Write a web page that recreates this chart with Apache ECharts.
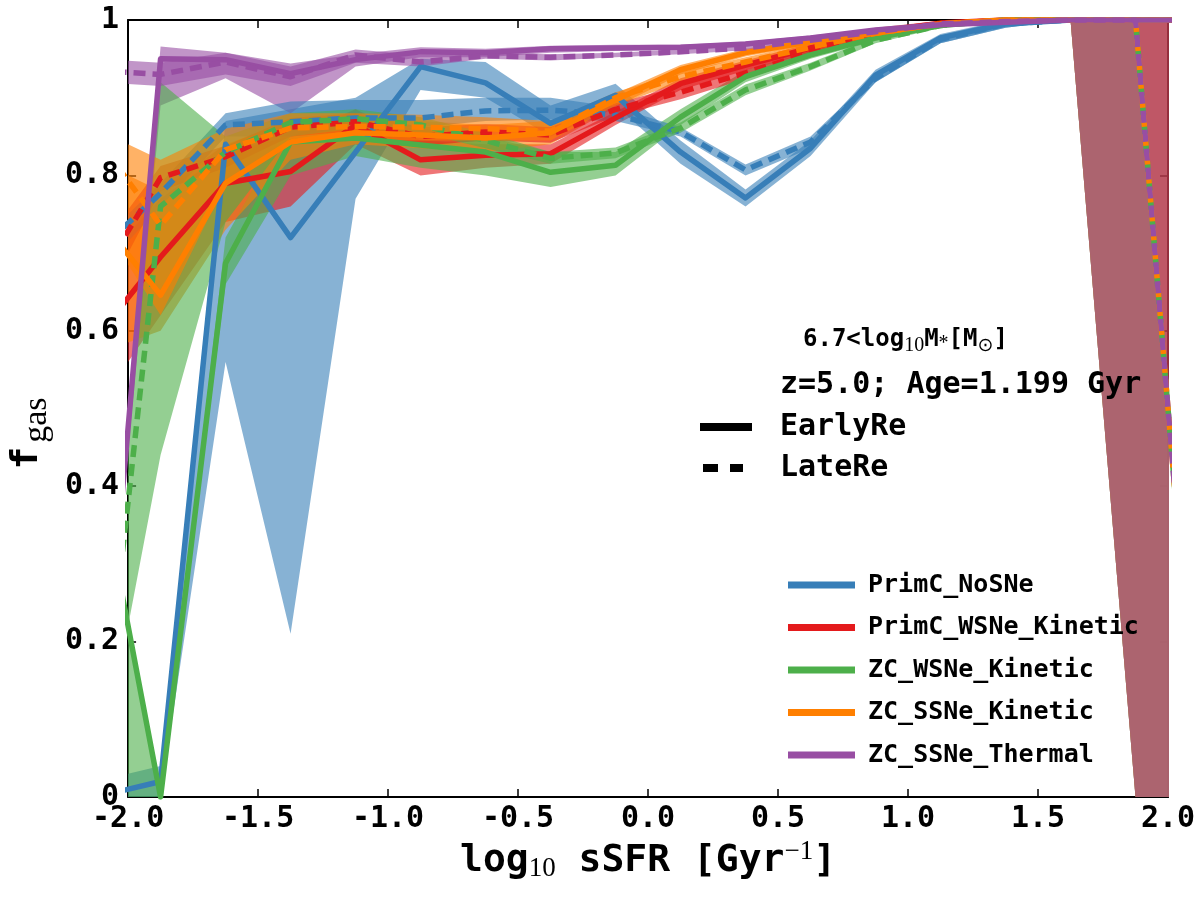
<!DOCTYPE html>
<html><head><meta charset="utf-8">
<script src="https://cdn.jsdelivr.net/npm/echarts/dist/echarts.min.js"></script>
<style>html,body{margin:0;padding:0;background:#fff}#c{width:1200px;height:900px}</style>
</head><body><div id="c"></div>
<script>
// bin centres of log10 sSFR
const xBins = [-2.125,-1.875,-1.625,-1.375,-1.125,-0.875,-0.625,-0.375,-0.125,0.125,0.375,0.625,0.875,1.125,1.375,1.625,1.875,2.125];
const models = ['PrimC_NoSNe','PrimC_WSNe_Kinetic','ZC_WSNe_Kinetic','ZC_SSNe_Kinetic','ZC_SSNe_Thermal'];
const colors = ['#377eb8','#e41a1c','#4daf4a','#ff7f00','#984ea3'];

// PrimC_NoSNe
const noSNeEarly   = [0.0,0.02,0.84,0.72,0.83,0.94,0.919,0.867,0.903,0.83,0.771,0.835,0.929,0.977,0.995,1,1,1];
const noSNeEarlyLo = [0.0,0.0,0.56,0.21,0.77,0.91,0.9,0.85,0.89,0.815,0.76,0.825,0.92,0.97,0.99,1,0,0];
const noSNeEarlyHi = [0.02,0.04,0.87,0.885,0.9,0.95,0.946,0.89,0.918,0.845,0.782,0.845,0.936,0.982,1,1,1,1];
const noSNeLate    = [0.70,0.777,0.865,0.869,0.874,0.874,0.883,0.884,0.878,0.856,0.807,0.843,0.925,0.975,0.995,1,1,1];
const noSNeLateLo  = [0.67,0.76,0.85,0.85,0.862,0.862,0.87,0.872,0.87,0.85,0.8,0.835,0.92,0.97,0.99,1,1,1];
const noSNeLateHi  = [0.71,0.79,0.88,0.895,0.897,0.897,0.9,0.9,0.888,0.862,0.814,0.85,0.93,0.98,1,1,1,1];
// PrimC_WSNe_Kinetic
const primKinEarly   = [0.59,0.695,0.79,0.805,0.865,0.82,0.826,0.828,0.874,0.918,0.942,0.964,0.985,0.996,1,1,1,1];
const primKinEarlyLo = [0.5,0.62,0.74,0.76,0.84,0.8,0.81,0.815,0.865,0.91,0.935,0.958,0.98,0.993,1,1,0,0];
const primKinEarlyHi = [0.68,0.77,0.83,0.85,0.885,0.845,0.84,0.84,0.882,0.925,0.948,0.97,0.99,0.999,1,1,1,1];
const primKinLate    = [0.66,0.797,0.824,0.862,0.869,0.85,0.856,0.852,0.885,0.907,0.932,0.958,0.979,0.995,1,1,1,1];
const primKinLateLo  = [0.62,0.78,0.81,0.85,0.857,0.838,0.845,0.842,0.876,0.898,0.924,0.952,0.975,0.992,1,1,1,1];
const primKinLateHi  = [0.7,0.812,0.838,0.874,0.88,0.862,0.866,0.862,0.893,0.915,0.94,0.964,0.983,0.998,1,1,1,1];
// ZC_WSNe_Kinetic
const zcWKinEarly   = [0.44,0.0,0.687,0.843,0.848,0.839,0.83,0.804,0.813,0.875,0.927,0.955,0.977,0.993,1,1,1,1];
const zcWKinEarlyLo = [0.0,0.0,0.66,0.8,0.825,0.81,0.8,0.785,0.8,0.865,0.92,0.95,0.973,0.99,1,1,1,1];
const zcWKinEarlyHi = [0.44,0.0,0.72,0.87,0.87,0.86,0.85,0.83,0.83,0.885,0.935,0.96,0.98,0.996,1,1,1,1];
const zcWKinLate    = [0.0,0.76,0.83,0.868,0.873,0.865,0.845,0.822,0.829,0.861,0.91,0.94,0.974,0.993,1,1,1,0];
const zcWKinLateLo  = [0.0,0.44,0.74,0.85,0.86,0.855,0.835,0.815,0.822,0.855,0.903,0.935,0.97,0.99,1,1,0,0];
const zcWKinLateHi  = [0.0,0.92,0.85,0.88,0.885,0.875,0.855,0.83,0.836,0.868,0.917,0.945,0.978,0.996,1,1,1,0];
// ZC_SSNe_Kinetic
const zcSKinEarly   = [0.75,0.646,0.79,0.843,0.855,0.852,0.848,0.855,0.897,0.936,0.958,0.972,0.983,0.995,1,1,1,1];
const zcSKinEarlyLo = [0.57,0.6,0.73,0.82,0.84,0.835,0.83,0.84,0.888,0.93,0.953,0.968,0.98,0.993,1,1,1,1];
const zcSKinEarlyHi = [0.82,0.78,0.84,0.87,0.875,0.87,0.865,0.87,0.905,0.942,0.963,0.976,0.986,0.997,1,1,1,1];
const zcSKinLate    = [0.85,0.736,0.833,0.861,0.863,0.862,0.86,0.857,0.9,0.927,0.946,0.965,0.983,0.995,1,1,1,0];
const zcSKinLateLo  = [0.75,0.62,0.79,0.84,0.845,0.845,0.845,0.845,0.89,0.92,0.94,0.96,0.98,0.993,1,1,0,0];
const zcSKinLateHi  = [0.86,0.82,0.86,0.88,0.88,0.878,0.875,0.87,0.907,0.933,0.952,0.97,0.986,0.997,1,1,1,0];
// ZC_SSNe_Thermal
const zcSThEarly   = [0.0,0.95,0.949,0.931,0.949,0.959,0.958,0.963,0.964,0.965,0.969,0.977,0.987,0.994,0.997,1,1,1];
const zcSThEarlyLo = [0.0,0.89,0.925,0.88,0.94,0.952,0.952,0.958,0.96,0.962,0.966,0.974,0.985,0.993,0.997,1,1,1];
const zcSThEarlyHi = [0.0,0.966,0.958,0.944,0.956,0.965,0.963,0.967,0.968,0.968,0.972,0.98,0.989,0.996,0.998,1,1,1];
const zcSThLate    = [0.935,0.93,0.946,0.927,0.955,0.946,0.954,0.952,0.955,0.959,0.964,0.974,0.985,0.995,0.998,1,1,0];
const zcSThLateLo  = [0.92,0.915,0.93,0.915,0.945,0.94,0.95,0.948,0.952,0.956,0.961,0.971,0.983,0.993,0.997,1,0,0];
const zcSThLateHi  = [0.95,0.945,0.958,0.94,0.962,0.955,0.958,0.956,0.958,0.962,0.967,0.977,0.987,0.997,0.999,1,1,0];

const xTickLabels = ['-2.0','-1.5','-1.0','-0.5','0.0','0.5','1.0','1.5','2.0'];
const yTickLabels = ['0','0.2','0.4','0.6','0.8','1'];

const runs = [
  {m:0, early:noSNeEarly, eLo:noSNeEarlyLo, eHi:noSNeEarlyHi, late:noSNeLate, lLo:noSNeLateLo, lHi:noSNeLateHi},
  {m:1, early:primKinEarly, eLo:primKinEarlyLo, eHi:primKinEarlyHi, late:primKinLate, lLo:primKinLateLo, lHi:primKinLateHi},
  {m:2, early:zcWKinEarly, eLo:zcWKinEarlyLo, eHi:zcWKinEarlyHi, late:zcWKinLate, lLo:zcWKinLateLo, lHi:zcWKinLateHi},
  {m:3, early:zcSKinEarly, eLo:zcSKinEarlyLo, eHi:zcSKinEarlyHi, late:zcSKinLate, lLo:zcSKinLateLo, lHi:zcSKinLateHi},
  {m:4, early:zcSThEarly, eLo:zcSThEarlyLo, eHi:zcSThEarlyHi, late:zcSThLate, lLo:zcSThLateLo, lHi:zcSThLateHi}
];

function band(name, color, lo, hi) {
  const data = xBins.map((x,i)=>[x, lo[i], hi[i]]);
  return {
    type:'custom', name:name, data:data, clip:true, z:1, silent:true,
    encode:{x:0, y:[1,2]},
    renderItem:function(params, api){
      if (params.dataIndex !== 0) return null;
      const pts = [];
      for (let i=0;i<data.length;i++) pts.push(api.coord([data[i][0], data[i][2]]));
      for (let i=data.length-1;i>=0;i--) pts.push(api.coord([data[i][0], data[i][1]]));
      return {type:'polygon', shape:{points:pts}, style:{fill:color, opacity:0.6}};
    }
  };
}
function line(name, color, ys, dashed) {
  return {
    type:'line', name:name, data:xBins.map((x,i)=>[x, ys[i]]), showSymbol:false, symbol:'none',
    clip:true, z:3, silent:true, color:color, itemStyle:{color:color},
    lineStyle:{color:color, width:5.5, type: dashed ? [12,7] : 'solid', join:'round', cap:'butt'}
  };
}

const series = [];
runs.forEach(r=>{ series.push(band(models[r.m]+' early band', colors[r.m], r.eLo, r.eHi)); });
runs.forEach(r=>{ series.push(band(models[r.m]+' late band', colors[r.m], r.lLo, r.lHi)); });
runs.forEach(r=>{
  series.push(line(models[r.m], colors[r.m], r.early, false));
  series.push(line(models[r.m], colors[r.m], r.late, true));
});

const mono = 'DejaVu Sans Mono';
const serif = 'Liberation Serif';
const axisCommon = {
  axisLine:{show:true, onZero:false, lineStyle:{color:'#000', width:2}},
  axisTick:{show:true, inside:true, length:8, lineStyle:{color:'#000', width:1.5}},
  splitLine:{show:false}
};

const chart = echarts.init(document.getElementById('c'), null, {renderer:'canvas'});
chart.setOption({
  animation:false,
  backgroundColor:'#fff',
  grid:{left:127, right:32, top:20, bottom:103, containLabel:false},
  xAxis:[
    Object.assign({type:'value', min:-2, max:2, interval:0.5, position:'bottom',
      axisLabel:{show:true, margin:7, color:'#000', fontFamily:mono, fontWeight:'bold', fontSize:30,
        formatter:function(v){ return xTickLabels[Math.round((v+2)/0.5)]; }},
      name:'{a|log}{s|10}{a| sSFR [Gyr}{p|−1}{a|]}', nameLocation:'middle', nameGap:39,
      nameTextStyle:{rich:{
        a:{fontFamily:mono, fontWeight:'bold', fontSize:38, color:'#000', verticalAlign:'middle'},
        s:{fontFamily:serif, fontSize:27, color:'#000', padding:[16,0,0,0], verticalAlign:'middle'},
        p:{fontFamily:serif, fontSize:27, color:'#000', padding:[0,0,18,0], verticalAlign:'middle'}
      }}
    }, axisCommon),
    Object.assign({type:'value', min:-2, max:2, interval:0.5, position:'top', axisLabel:{show:false}}, axisCommon)
  ],
  yAxis:[
    Object.assign({type:'value', min:0, max:1, interval:0.2, position:'left',
      axisLabel:{show:true, margin:9, color:'#000', fontFamily:mono, fontWeight:'bold', fontSize:30,
        formatter:function(v){ return yTickLabels[Math.round(v/0.2)]; }},
      name:'{a|f}{s|gas}', nameLocation:'middle', nameGap:71, nameRotate:90,
      nameTextStyle:{rich:{
        a:{fontFamily:mono, fontWeight:'bold', fontSize:38, color:'#000', verticalAlign:'middle'},
        s:{fontFamily:serif, fontSize:34, color:'#000', padding:[20,50,0,4], verticalAlign:'middle'}
      }}
    }, axisCommon),
    Object.assign({type:'value', min:0, max:1, interval:0.2, position:'right', axisLabel:{show:false}}, axisCommon)
  ],
  legend:{
    orient:'vertical', left:783, top:565, icon:'rect', itemWidth:67, itemHeight:7, itemGap:12.5,
    selectedMode:false, data:models, z:100,
    textStyle:{fontFamily:mono, fontWeight:'bold', fontSize:25, color:'#000', lineHeight:30, padding:[0,0,0,8]}
  },
  graphic:[
    {type:'text', x:803, y:340, z:100, silent:true, style:{
      text:'{a|6.7<log}{s|10}{a|M}{t|*}{a|[M}{o|⊙}{a|]}', align:'left', verticalAlign:'middle',
      rich:{
        a:{fontFamily:mono, fontWeight:'bold', fontSize:24, fill:'#000', verticalAlign:'middle'},
        s:{fontFamily:serif, fontSize:20, fill:'#000', padding:[12,0,0,0], verticalAlign:'middle'},
        t:{fontFamily:serif, fontSize:20, fill:'#000', padding:[8,0,0,0], verticalAlign:'middle'},
        o:{fontFamily:'DejaVu Sans', fontSize:19, fill:'#000', padding:[12,0,0,0], verticalAlign:'middle'}
      }}},
    {type:'text', x:780, y:385, z:100, silent:true, style:{text:'z=5.0; Age=1.199 Gyr', fill:'#000',
      font:'bold 30px "DejaVu Sans Mono"', align:'left', verticalAlign:'middle'}},
    {type:'text', x:780, y:427, z:100, silent:true, style:{text:'EarlyRe', fill:'#000',
      font:'bold 30px "DejaVu Sans Mono"', align:'left', verticalAlign:'middle'}},
    {type:'text', x:780, y:468, z:100, silent:true, style:{text:'LateRe', fill:'#000',
      font:'bold 30px "DejaVu Sans Mono"', align:'left', verticalAlign:'middle'}},
    {type:'line', z:100, silent:true, shape:{x1:700, y1:427, x2:752, y2:427}, style:{stroke:'#000', lineWidth:8}},
    {type:'line', z:100, silent:true, shape:{x1:703, y1:468, x2:743, y2:468}, style:{stroke:'#000', lineWidth:8, lineDash:[15,12]}}
  ],
  series:series
});
</script></body></html>
